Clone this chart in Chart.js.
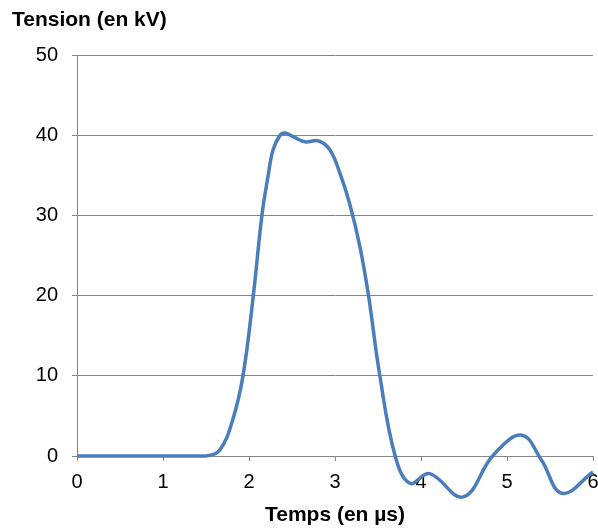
<!DOCTYPE html>
<html>
<head>
<meta charset="utf-8">
<script src="https://cdn.jsdelivr.net/npm/chart.js@4.4.1/dist/chart.umd.min.js"></script>
<style>
  body { margin: 0; background: #fff; }
  #wrap { width: 598px; height: 531px; }
</style>
</head>
<body>
<div id="wrap"><canvas id="pulse" width="598" height="531"></canvas></div>
<script>
// time (µs) and voltage (kV)
const times = [0, 0.5, 1.0, 1.5, 1.66, 1.81, 1.93, 2.05, 2.15, 2.22, 2.28, 2.36, 2.42, 2.52, 2.65, 2.81, 2.94, 3.06, 3.17, 3.29, 3.39, 3.52, 3.70, 3.87, 4.10, 4.49, 4.84, 5.17, 5.40, 5.64, 6.0]
const tension = [0, 0, 0, 0, 0.75, 4.5, 10, 20, 30, 34.8, 38.2, 40, 40.3, 39.8, 39.2, 39.3, 38.2, 35.2, 31.5, 26.1, 20, 10.1, 0, -3.4, -2.2, -5.1, 0.1, 2.6, -0.5, -4.65, -2.0]
const xTicks = [0, 1, 2, 3, 4, 5, 6]
const yTicks = [0, 10, 20, 30, 40, 50]

const gridGray = '#868686'
const tickFont = { family: '"Liberation Sans", Arial, sans-serif', size: 20 }
const titleFont = { family: '"Liberation Sans", Arial, sans-serif', size: 21, weight: 'bold' }

var ctx = document.getElementById('pulse');
var myChart = new Chart(ctx, {
	type: 'line',
	data: {
		datasets: [{
			label: 'Tension',
			data: times.map((t, i) => ({ x: t, y: tension[i] })),
			borderColor: '#4a7ebb',
			borderWidth: 3.5,
			pointRadius: 0,
			tension: 0.4,
			fill: false,
			clip: false
		}]
	},
	options: {
		responsive: false,
		animation: false,
		layout: { padding: { left: 12, right: 5, top: 0, bottom: 0 } },
		plugins: {
			legend: { display: false },
			tooltip: { enabled: false },
			title: {
				display: true,
				text: 'Tension (en kV)',
				align: 'start',
				color: '#000',
				font: titleFont,
				padding: { top: 8, bottom: 22 }
			}
		},
		scales: {
			x: {
				type: 'linear',
				min: 0, max: 6,
				afterBuildTicks: (axis) => { axis.ticks = xTicks.map(v => ({ value: v })) },
				afterFit: (axis) => {
					axis.height = 75
					// let the "6" label hang past the plot edge like the original
					axis.paddingRight = 0
					axis.paddingLeft = 0
				},
				grid: { drawOnChartArea: false, drawTicks: true, tickLength: 5, color: gridGray },
				border: { color: gridGray },
				ticks: { color: '#000', font: tickFont, padding: 9, maxRotation: 0 },
				title: { display: true, text: 'Temps (en µs)', color: '#000', font: titleFont, padding: { top: 0, bottom: 3 } }
			},
			y: {
				min: 0, max: 50,
				afterBuildTicks: (axis) => { axis.ticks = yTicks.map(v => ({ value: v })) },
				afterFit: (axis) => { axis.width = 65 },
				grid: { color: gridGray, tickLength: 5 },
				border: { color: gridGray },
				ticks: { color: '#000', font: tickFont, padding: 14 }
			}
		}
	}
});
</script>
</body>
</html>
